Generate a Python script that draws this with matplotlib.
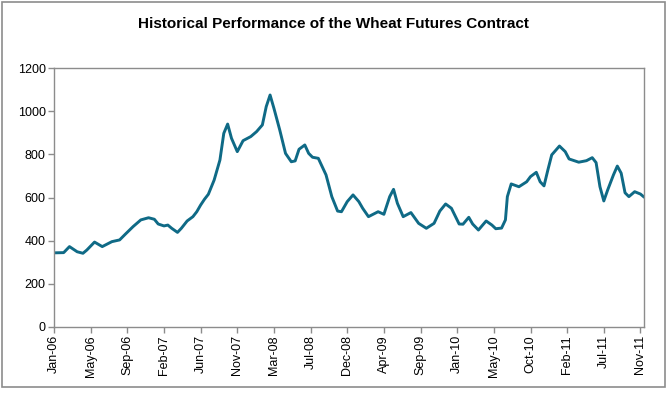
import matplotlib
matplotlib.use('Agg')
import matplotlib.pyplot as plt
from matplotlib.patches import Rectangle

# weekly observations, x = week number from Jan-06
weeks = [0, 5, 8, 12, 15, 17, 21, 25, 30, 34, 37, 41, 45, 49, 52, 54, 57, 59,
         61, 64, 66, 69, 72, 74, 76, 78, 80, 83, 86, 88, 90, 92, 95, 98, 102,
         105, 108, 110, 112, 114, 117, 120, 123, 125, 127, 130, 132, 134, 137,
         141, 144, 147, 149, 152, 155, 158, 160, 163, 168, 171, 174, 176, 178,
         181, 185, 189, 193, 197, 200, 203, 206, 210, 212, 215, 217, 220, 224,
         227, 229, 232, 234, 235, 237, 241, 245, 247, 250, 252, 254, 256, 258,
         262, 265, 267, 272, 276, 279, 281, 283, 285, 287, 290, 292, 294, 296,
         298, 301, 304, 306]
price = [343, 344, 372, 348, 341, 356, 393, 372, 395, 403, 430, 465, 496, 506,
         499, 477, 468, 472, 457, 438, 457, 491, 511, 534, 565, 592, 615, 681,
         774, 898, 941, 875, 813, 864, 883, 906, 937, 1022, 1076, 1014, 914,
         805, 766, 770, 824, 844, 805, 787, 782, 705, 604, 537, 534, 581, 612,
         581, 550, 511, 534, 522, 604, 638, 573, 511, 530, 480, 457, 480, 537,
         570, 550, 477, 476, 508, 477, 449, 491, 472, 455, 458, 496, 604, 663,
         650, 673, 697, 717, 673, 654, 728, 798, 839, 813, 779, 764, 771, 785,
         762, 650, 584, 635, 705, 746, 713, 622, 604, 627, 616, 601]

tick_labels = ['Jan-06', 'May-06', 'Sep-06', 'Feb-07', 'Jun-07', 'Nov-07',
               'Mar-08', 'Jul-08', 'Dec-08', 'Apr-09', 'Sep-09', 'Jan-10',
               'May-10', 'Oct-10', 'Feb-11', 'Jul-11', 'Nov-11']
tick_step = 19

plt.rcParams['font.family'] = ['Liberation Sans', 'DejaVu Sans']

fig = plt.figure(figsize=(6.67, 3.96), dpi=100)
fig.patches.append(Rectangle((2 / 667, 9 / 396), 663 / 667, 385 / 396,
                             transform=fig.transFigure, fill=False,
                             edgecolor='#8c8c8c', linewidth=1.2))

ax = fig.add_axes([0.081, 0.175, 0.885, 0.6525])
ax.plot(weeks, price, color='#0f6a86', linewidth=2.1, solid_joinstyle='round',
        solid_capstyle='round')

ax.set_xlim(0, weeks[-1])
ax.set_ylim(0, 1200)
ax.set_yticks(range(0, 1201, 200))
ax.set_xticks([i * tick_step for i in range(len(tick_labels))])
ax.set_xticklabels(tick_labels, rotation=90)

for s in ax.spines.values():
    s.set_color('#8c8c8c')
    s.set_linewidth(1.0)
ax.tick_params(direction='out', length=4, width=1, color='#8c8c8c',
               labelsize=9, pad=2)

fig.text(0.5, 1 - 24 / 396, 'Historical Performance of the Wheat Futures Contract',
         ha='center', va='center', fontsize=11, fontweight='bold')

fig.savefig('out.png', dpi=100)
